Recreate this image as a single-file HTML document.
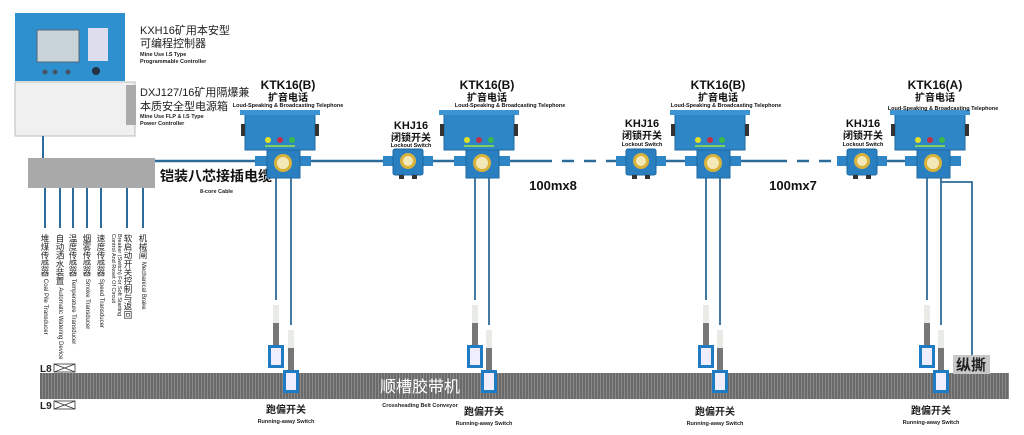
<!DOCTYPE html>
<html><head><meta charset="utf-8"><style>
html,body{margin:0;padding:0;background:#fff;}
body{position:relative;width:1024px;height:435px;overflow:hidden;}
svg{display:block;font-family:"Liberation Sans","Noto Sans CJK SC",sans-serif;}
.v{position:absolute;top:234px;writing-mode:vertical-rl;text-orientation:mixed;font-family:"Liberation Sans","Noto Sans CJK SC",sans-serif;font-size:8.5px;line-height:10px;color:#222;white-space:nowrap;}
.v span{font-size:6px;}
.s{font-size:5.5px!important;line-height:6px!important;}
</style></head><body>
<svg width="1024" height="435" viewBox="0 0 1024 435" xmlns="http://www.w3.org/2000/svg">
<defs>
<pattern id="belt" width="3" height="10" patternUnits="userSpaceOnUse">
<rect width="3" height="10" fill="#6a6a6a"/><rect width="1" height="10" fill="#8a8a8a"/>
</pattern>
<g id="phone">
<rect x="-40" y="0" width="70" height="38" fill="#2f86c6" stroke="#1d6aa3"/>
<rect x="-45" y="-2" width="80" height="5" fill="#3c94d2"/>
<rect x="-44" y="12" width="4" height="12" fill="#333"/>
<rect x="30" y="12" width="4" height="12" fill="#333"/>
<circle cx="-17" cy="28" r="3" fill="#e3e02a"/><circle cx="-5" cy="28" r="3" fill="#c0304a"/><circle cx="7" cy="28" r="3" fill="#3cb94a"/>
<rect x="-20" y="33" width="30" height="2" fill="#7fcf60"/>
<rect x="-30" y="44" width="14" height="10" fill="#2f86c6"/>
<rect x="12" y="44" width="14" height="10" fill="#2f86c6"/>
<rect x="-18" y="38" width="33" height="28" fill="#2a7fc0" stroke="#1d6aa3"/>
<circle cx="-2" cy="51" r="9" fill="#d9b23c"/><circle cx="-2" cy="51" r="6" fill="#f3e9b8"/>
</g>
<g id="lock">
<rect x="-25" y="7" width="50" height="10" fill="#2f86c6"/>
<rect x="-15" y="0" width="30" height="26" rx="2" fill="#2a7fc0" stroke="#1d6aa3"/>
<circle cx="0" cy="12" r="8" fill="#d9b23c"/><circle cx="0" cy="12" r="5" fill="#f3e9b8"/>
<rect x="-9" y="26" width="5" height="4" fill="#333"/><rect x="4" y="26" width="5" height="4" fill="#333"/>
</g>
<g id="run">
<rect x="-3" y="-55" width="6" height="18" fill="#e9ece6"/>
<rect x="-3" y="-37" width="6" height="22" fill="#777"/>
<rect x="-8" y="-15" width="16" height="23" fill="#1f7cc4"/>
<rect x="-5" y="-12" width="10" height="17" fill="#eef"/>
</g>
</defs>

<rect x="15" y="13" width="110" height="68" fill="#2f90cf"/>
<rect x="37" y="30" width="42" height="32" fill="#c9d4d8" stroke="#567"/>
<rect x="88" y="28" width="20" height="33" fill="#dde"/>
<circle cx="45" cy="72" r="2.5" fill="#456"/><circle cx="55" cy="72" r="2.5" fill="#456"/><circle cx="68" cy="72" r="2.5" fill="#456"/>
<circle cx="96" cy="71" r="4" fill="#234"/>
<rect x="15" y="82" width="120" height="54" fill="#f0f0f0" stroke="#bbb"/>
<rect x="126" y="85" width="10" height="40" fill="#aaa"/>
<text x="140" y="34" font-size="11" fill="#222">KXH16矿用本安型</text>
<text x="140" y="47" font-size="11" fill="#222">可编程控制器</text>
<text x="140" y="56" font-size="5.5" font-weight="bold" fill="#222">Mine Use I.S Type</text>
<text x="140" y="63" font-size="5.5" font-weight="bold" fill="#222">Programmable Controller</text>
<text x="140" y="96" font-size="11" fill="#222">DXJ127/16矿用隔爆兼</text>
<text x="140" y="110" font-size="11" fill="#222">本质安全型电源箱</text>
<text x="140" y="118" font-size="5.5" font-weight="bold" fill="#222">Mine Use FLP &amp; I.S Type</text>
<text x="140" y="125" font-size="5.5" font-weight="bold" fill="#222">Power Controller</text>
<line x1="43" y1="136" x2="43" y2="158" stroke="#2d6b9a" stroke-width="2"/>

<g stroke="#2d6b9a" stroke-width="2.5" fill="none">
<line x1="155" y1="161" x2="540" y2="161"/>
<line x1="540" y1="161" x2="612" y2="161" stroke-dasharray="12,10"/>
<line x1="612" y1="161" x2="775" y2="161"/>
<line x1="775" y1="161" x2="840" y2="161" stroke-dasharray="12,10"/>
<line x1="840" y1="161" x2="935" y2="161"/>
</g>
<rect x="28" y="158" width="127" height="30" fill="#a9a9a9"/>
<text x="160" y="181" font-size="14" font-weight="bold" fill="#111">铠装八芯接插电缆</text>
<text x="200" y="193" font-size="5.5" font-weight="bold" fill="#222">8-core Cable</text>

<g stroke="#2d6b9a" stroke-width="2">
<line x1="45" y1="188" x2="45" y2="228"/><line x1="60" y1="188" x2="60" y2="228"/>
<line x1="73" y1="188" x2="73" y2="228"/><line x1="87" y1="188" x2="87" y2="228"/>
<line x1="101" y1="188" x2="101" y2="228"/><line x1="127" y1="188" x2="127" y2="228"/>
<line x1="143" y1="188" x2="143" y2="228"/>
</g>

<g stroke="#2d6b9a" stroke-width="1.8" fill="none">
<line x1="276" y1="178" x2="276" y2="300"/><line x1="291" y1="178" x2="291" y2="325"/>
<line x1="475" y1="178" x2="475" y2="300"/><line x1="489" y1="178" x2="489" y2="325"/>
<line x1="706" y1="178" x2="706" y2="300"/><line x1="720" y1="178" x2="720" y2="325"/>
<line x1="927" y1="178" x2="927" y2="300"/><line x1="941" y1="178" x2="941" y2="325"/>
<polyline points="941,182 972,182 972,355"/>
</g>

<rect x="40" y="373" width="969" height="26" fill="url(#belt)"/>
<text x="420" y="392" font-size="16" fill="#fff" text-anchor="middle">顺槽胶带机</text>
<text x="420" y="407" font-size="5.5" font-weight="bold" fill="#222" text-anchor="middle">Crossheading Belt Conveyor</text>
<text x="40" y="372" font-size="10" font-weight="bold" fill="#222">L8</text>
<text x="40" y="409" font-size="10" font-weight="bold" fill="#222">L9</text>
<g stroke="#333" fill="none" stroke-width="0.8">
<rect x="54" y="364" width="21" height="8"/><path d="M54 364L75 372M75 364L54 372"/>
<rect x="54" y="401" width="21" height="8"/><path d="M54 401L75 409M75 401L54 409"/>
</g>
<rect x="953" y="355" width="37" height="19" fill="#c8c8c8"/>
<text x="971" y="370" font-size="15" font-weight="bold" fill="#222" text-anchor="middle">纵撕</text>

<use href="#run" x="276" y="360"/><use href="#run" x="291" y="385"/>
<use href="#run" x="475" y="360"/><use href="#run" x="489" y="385"/>
<use href="#run" x="706" y="360"/><use href="#run" x="720" y="385"/>
<use href="#run" x="927" y="360"/><use href="#run" x="941" y="385"/>
<g font-weight="bold" fill="#222" text-anchor="middle">
<text x="286" y="413" font-size="10">跑偏开关</text><text x="286" y="423" font-size="5.5">Running-away Switch</text>
<text x="484" y="415" font-size="10">跑偏开关</text><text x="484" y="425" font-size="5.5">Running-away Switch</text>
<text x="715" y="415" font-size="10">跑偏开关</text><text x="715" y="425" font-size="5.5">Running-away Switch</text>
<text x="931" y="414" font-size="10">跑偏开关</text><text x="931" y="424" font-size="5.5">Running-away Switch</text>
</g>

<use href="#phone" x="285" y="112"/>
<use href="#phone" x="484" y="112"/>
<use href="#phone" x="715" y="112"/>
<use href="#phone" x="935" y="112"/>
<use href="#lock" x="408" y="149"/>
<use href="#lock" x="641" y="149"/>
<use href="#lock" x="862" y="149"/>

<g font-weight="bold" fill="#111" text-anchor="middle">
<text x="288" y="89" font-size="12">KTK16(B)</text><text x="288" y="101" font-size="10">扩音电话</text>
<text x="288" y="107" font-size="5.5">Loud-Speaking &amp; Broadcasting  Telephone</text>
<text x="487" y="89" font-size="12">KTK16(B)</text><text x="487" y="101" font-size="10">扩音电话</text>
<text x="510" y="107" font-size="5.5">Loud-Speaking &amp; Broadcasting  Telephone</text>
<text x="718" y="89" font-size="12">KTK16(B)</text><text x="718" y="101" font-size="10">扩音电话</text>
<text x="726" y="107" font-size="5.5">Loud-Speaking &amp; Broadcasting  Telephone</text>
<text x="935" y="89" font-size="12">KTK16(A)</text><text x="935" y="101" font-size="10">扩音电话</text>
<text x="943" y="110" font-size="5.5">Loud-Speaking &amp; Broadcasting  Telephone</text>
<text x="411" y="129" font-size="11">KHJ16</text><text x="411" y="141" font-size="10">闭锁开关</text><text x="411" y="147" font-size="5.5">Lockout Switch</text>
<text x="642" y="127" font-size="11">KHJ16</text><text x="642" y="139" font-size="10">闭锁开关</text><text x="642" y="146" font-size="5.5">Lockout Switch</text>
<text x="863" y="127" font-size="11">KHJ16</text><text x="863" y="139" font-size="10">闭锁开关</text><text x="863" y="146" font-size="5.5">Lockout Switch</text>
<text x="553" y="190" font-size="13">100mx8</text>
<text x="793" y="190" font-size="13">100mx7</text>
</g>
</svg>
<div class="v" style="left:40px">堆煤传感器 <span>Coal Pile Transducer</span></div>
<div class="v" style="left:55px">自动洒水装置 <span>Automatic Watering Device</span></div>
<div class="v" style="left:68px">温度传感器 <span>Temperature Transducer</span></div>
<div class="v" style="left:82px">烟雾传感器 <span>Smoke Transducer</span></div>
<div class="v" style="left:96px">速度传感器 <span>Speed Transducer</span></div>
<div class="v s" style="left:110px">Control And Reset Of Circuit</div>
<div class="v s" style="left:116px">Breaker (Switch) For Soft Starting</div>
<div class="v" style="left:123px">软启动开关控制与返回</div>
<div class="v" style="left:138px">机械闸 <span>Mechanical Brake</span></div>
</body></html>
